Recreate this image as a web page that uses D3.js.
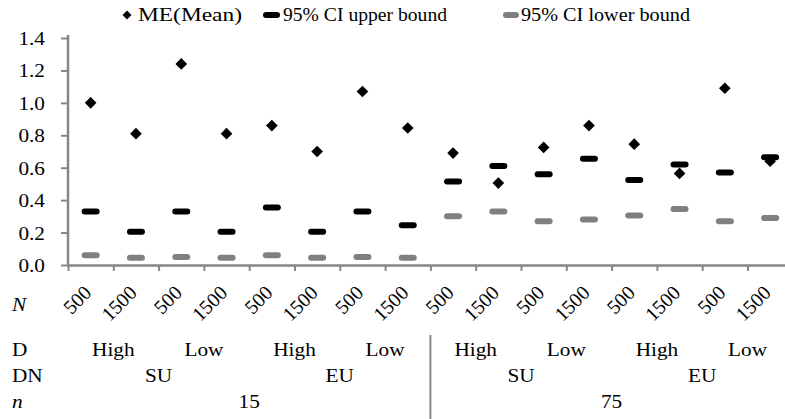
<!DOCTYPE html>
<html>
<head>
<meta charset="utf-8">
<script src="https://cdn.jsdelivr.net/npm/d3@7"></script>
<style>
  html, body { margin: 0; padding: 0; background: #fff; }
  svg { display: block; }
  text { font-family: "Liberation Serif", "Times New Roman", serif; fill: #000; }
</style>
</head>
<body>
<svg id="chart" width="785" height="419"></svg>
<script>
// Sample size N per condition (16 conditions)
const sampleN = ["500","1500","500","1500","500","1500","500","1500",
                 "500","1500","500","1500","500","1500","500","1500"];
// Factor rows under the axis
const dLevels = ["High","Low","High","Low","High","Low","High","Low"];
const dnLevels = ["SU","EU","SU","EU"];
const nLevels = ["15","75"];

// Series values
const meanME = [1.00, 0.81, 1.24, 0.81, 0.86, 0.70, 1.07, 0.845,
                0.69, 0.505, 0.725, 0.86, 0.745, 0.565, 1.09, 0.64];
const ciUpper = [0.33, 0.205, 0.33, 0.205, 0.355, 0.205, 0.33, 0.245,
                 0.515, 0.61, 0.56, 0.655, 0.525, 0.62, 0.57, 0.665];
const ciLower = [0.06, 0.045, 0.05, 0.045, 0.06, 0.045, 0.05, 0.045,
                 0.30, 0.33, 0.27, 0.28, 0.305, 0.345, 0.27, 0.29];

const yTicks = [0, 0.2, 0.4, 0.6, 0.8, 1.0, 1.2, 1.4];
const legendItems = ["ME(Mean)", "95% CI upper bound", "95% CI lower bound"];

const axisGrey = "#868686";
const lowerGrey = "#808080";
const fontSize = 19;
const sx = 1.12;   // horizontal stretch applied to text

const svg = d3.select("#chart");

const step = 45.3;
const x0 = 68;
const x = d3.scaleBand().domain(d3.range(sampleN.length))
  .range([x0, x0 + step * sampleN.length]).padding(0);
const xb = d3.scaleLinear().domain([0, sampleN.length]).range([x0, x0 + step * sampleN.length]);
const y = d3.scaleLinear().domain([0, 1.4]).range([265, 38]);

function stretchedText(g, px, py, str, anchor, extra) {
  return g.append("text")
    .attr("transform", `translate(${px},${py}) scale(${sx},1)` + (extra || ""))
    .attr("text-anchor", anchor)
    .attr("font-size", fontSize)
    .text(str);
}

// Y axis
const yAxis = svg.append("g")
  .attr("transform", `translate(${x0},0)`)
  .call(d3.axisLeft(y).tickValues(yTicks).tickFormat(d3.format(".1f")).tickSize(7).tickSizeOuter(0));
yAxis.select(".domain").attr("stroke", axisGrey).attr("stroke-width", 2.5)
  .attr("d", `M0,${y(1.4) - 3}V${y(0)}`);
yAxis.selectAll(".tick line").attr("stroke", axisGrey).attr("stroke-width", 2);
yAxis.selectAll(".tick text").remove();
yTicks.forEach(v => {
  stretchedText(svg, 45, y(v) + 7, d3.format(".1f")(v), "end");
});

// X axis
const xAxis = svg.append("g").attr("transform", `translate(0,${y(0)})`)
  .call(d3.axisBottom(xb).tickValues(d3.range(sampleN.length + 1)).tickFormat("").tickSize(6).tickSizeOuter(0));
xAxis.select(".domain").attr("stroke", axisGrey).attr("stroke-width", 2.5);
xAxis.selectAll(".tick line").attr("stroke", axisGrey).attr("stroke-width", 2);

// N tick labels, rotated
sampleN.forEach((s, i) => {
  const cx = x(i) + x.bandwidth() / 2;
  svg.append("text")
    .attr("transform", `translate(${cx + 2},${294}) rotate(-45)`)
    .attr("text-anchor", "end")
    .attr("font-size", 20)
    .text(s);
});

// Row labels
const rowY = { N: 311, D: 356, DN: 382, n: 408 };
svg.append("text").attr("transform", `translate(12,${rowY.N}) scale(${sx},1)`)
  .attr("font-size", fontSize).attr("font-style", "italic").text("N");
stretchedText(svg, 12, rowY.D, "D", "start");
stretchedText(svg, 12, rowY.DN, "DN", "start");
svg.append("text").attr("transform", `translate(12,${rowY.n}) scale(${sx},1)`)
  .attr("font-size", fontSize).attr("font-style", "italic").text("n");

dLevels.forEach((s, k) => stretchedText(svg, xb(2 * k + 1), rowY.D, s, "middle"));
dnLevels.forEach((s, k) => stretchedText(svg, xb(4 * k + 2), rowY.DN, s, "middle"));
nLevels.forEach((s, k) => stretchedText(svg, xb(8 * k + 4), rowY.n, s, "middle"));

// Separator between n groups
svg.append("line")
  .attr("x1", xb(8)).attr("x2", xb(8))
  .attr("y1", 335).attr("y2", 419)
  .attr("stroke", axisGrey).attr("stroke-width", 2);

// Markers
const dashW = 18, dashH = 6;
function dashes(values, color) {
  svg.append("g").selectAll("rect").data(values).join("rect")
    .attr("x", (d, i) => x(i) + x.bandwidth() / 2 - dashW / 2)
    .attr("y", d => y(d) - dashH / 2)
    .attr("width", dashW).attr("height", dashH)
    .attr("rx", 3).attr("ry", 3)
    .attr("fill", color);
}
dashes(ciLower, lowerGrey);
dashes(ciUpper, "#000");

const diamond = d3.symbol(d3.symbolSquare, 68);
svg.append("g").selectAll("path").data(meanME).join("path")
  .attr("d", diamond)
  .attr("transform", (d, i) => `translate(${x(i) + x.bandwidth() / 2},${y(d)}) rotate(45)`)
  .attr("fill", "#000");

// Legend
const legY = 15;
const leg = svg.append("g");
leg.append("path").attr("d", d3.symbol(d3.symbolSquare, 40))
  .attr("transform", `translate(127,${legY}) rotate(45)`).attr("fill", "#000");
leg.append("text").attr("x", 138).attr("y", legY + 6).attr("font-size", fontSize)
  .attr("textLength", 104).attr("lengthAdjust", "spacingAndGlyphs").text(legendItems[0]);
leg.append("rect").attr("x", 263).attr("y", legY - 3).attr("width", 17).attr("height", 6)
  .attr("rx", 3).attr("fill", "#000");
leg.append("text").attr("x", 283).attr("y", legY + 6).attr("font-size", fontSize)
  .attr("textLength", 164).attr("lengthAdjust", "spacingAndGlyphs").text(legendItems[1]);
leg.append("rect").attr("x", 503).attr("y", legY - 3).attr("width", 16).attr("height", 6)
  .attr("rx", 3).attr("fill", lowerGrey);
leg.append("text").attr("x", 521).attr("y", legY + 6).attr("font-size", fontSize)
  .attr("textLength", 169).attr("lengthAdjust", "spacingAndGlyphs").text(legendItems[2]);
</script>
</body>
</html>
